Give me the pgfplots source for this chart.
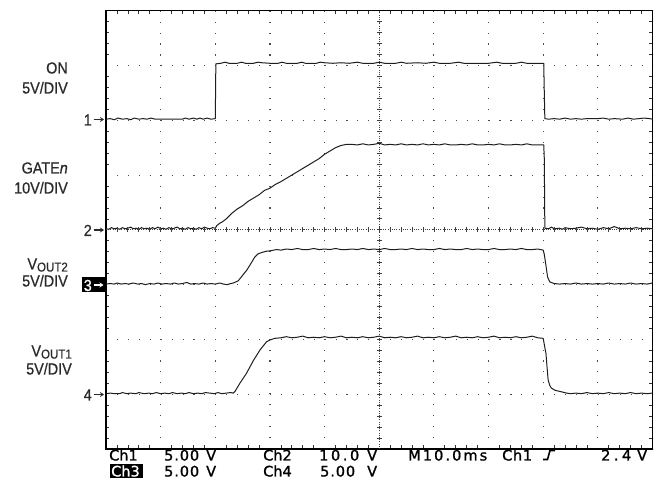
\documentclass[border=0pt]{standalone}
\usepackage{pgfplots}
\pgfplotsset{compat=1.18}
\usepackage{fontspec}
\usetikzlibrary{arrows.meta}
\setmainfont{Liberation Sans}
\newfontfamily\labfamily[FakeStretch=0.9, FakeBold=0.6]{Liberation Sans}
\newfontfamily\botfamily[FakeBold=1.2]{DejaVu Sans}
\newcommand\labfont{\labfamily\fontsize{16bp}{18bp}\selectfont}
\newcommand\subfont{\labfamily\fontsize{12.8bp}{14bp}\selectfont}
\newcommand\botfont{\botfamily\fontsize{14.5bp}{16bp}\selectfont}
\definecolor{trace}{HTML}{1E1E1E}
\definecolor{txt}{HTML}{2A2A2A}
\begin{document}
\begin{tikzpicture}
\useasboundingbox (0,0) rectangle (660bp,483bp);
\begin{axis}[
  at={(106bp,34bp)}, anchor=south west,
  scale only axis, width=546.5bp, height=438.3bp,
  xmin=0, xmax=10, ymin=0, ymax=8,
  xtick={0,...,10}, ytick={0,...,8},
  minor x tick num=4, minor y tick num=4,
  xticklabels={}, yticklabels={},
  major tick length=0pt, minor tick length=3.5bp,
  tick align=inside,
  minor tick style={black!80, line width=0.7bp},
  grid=major,
  major grid style={black!70, line width=1.1bp, dash pattern=on 1.1bp off 9.83bp},
  axis line style={black, line width=1.2bp},
  clip=false,
]
% Ch1 : ON
\addplot[trace, line width=1bp, line join=round] coordinates {
(0,6.02)(0.08,6.03)(0.15,6.01)(0.22,6.04)(0.3,6.02)(0.38,6.03)(0.45,6.01)(0.52,6.04)(0.6,6.02)(0.68,6.03)
(0.75,6.02)(0.82,6.04)(0.9,6.02)(1.0,6.02)(1.1,6.02)(1.2,6.02)(1.3,6.02)(1.4,6.02)(1.45,6.04)(1.52,6.02)
(1.6,6.04)(1.66,6.02)(1.72,6.04)(1.78,6.02)(1.85,6.04)(1.92,6.02)(2.0,6.03)
(2.01,7.03)(2.1,7.04)(2.18,7.06)(2.25,7.04)(2.4,7.04)(2.48,7.06)(2.55,7.04)(2.7,7.04)(2.78,7.06)(2.85,7.05)
(3.0,7.04)(3.15,7.04)(3.22,7.06)(3.3,7.04)(3.5,7.04)(3.58,7.06)(3.65,7.04)(3.85,7.04)(3.92,7.06)(4.0,7.05)
(4.15,7.04)(4.3,7.05)(4.45,7.04)(4.6,7.06)(4.7,7.04)(4.9,7.04)(5.0,7.06)(5.1,7.04)(5.3,7.04)(5.4,7.06)
(5.5,7.04)(5.7,7.05)(5.85,7.04)(6.0,7.06)(6.1,7.04)(6.3,7.04)(6.45,7.06)(6.55,7.04)(6.8,7.04)(7.0,7.04)
(7.15,7.06)(7.25,7.04)(7.5,7.04)(7.6,7.06)(7.7,7.04)(7.9,7.04)(8.01,7.04)
(8.02,6.5)(8.03,6.03)(8.1,6.02)(8.2,6.03)(8.3,6.02)(8.4,6.04)(8.5,6.02)(8.6,6.03)(8.7,6.02)(8.8,6.03)
(9.0,6.03)(9.1,6.04)(9.2,6.02)(9.3,6.03)(9.45,6.02)(9.55,6.04)(9.65,6.02)(9.75,6.03)(9.85,6.04)(9.95,6.03)(10,6.02)
};
% Ch2 : GATEn
\addplot[trace, line width=1bp, line join=round] coordinates {
(0,4.02)(0.05,4.01)(0.1,4.04)(0.15,4.02)(0.2,4.03)(0.25,4.01)(0.3,4.04)(0.35,4.02)(0.4,4.03)(0.45,4.05)
(0.5,4.02)(0.55,4.03)(0.6,4.01)(0.65,4.04)(0.7,4.02)(0.75,4.03)(0.8,4.01)(0.85,4.04)(0.9,4.02)(0.95,4.05)
(1.0,4.02)(1.05,4.03)(1.1,4.01)(1.15,4.04)(1.2,4.02)(1.25,4.03)(1.3,4.05)(1.35,4.02)(1.4,4.03)(1.45,4.01)
(1.5,4.04)(1.55,4.02)(1.6,4.03)(1.65,4.01)(1.7,4.04)(1.75,4.02)(1.8,4.05)(1.85,4.03)(1.9,4.02)(1.95,4.04)(2.0,4.03)
(2.03,4.08)(2.08,4.12)(2.12,4.14)(2.2,4.2)(2.3,4.3)(2.4,4.38)(2.5,4.44)(2.6,4.52)(2.7,4.58)(2.8,4.64)
(2.9,4.72)(3.0,4.76)(3.1,4.83)(3.2,4.88)(3.3,4.94)(3.4,5.0)(3.5,5.06)(3.6,5.12)(3.7,5.18)(3.8,5.24)
(3.9,5.3)(4.0,5.38)(4.1,5.44)(4.2,5.5)(4.3,5.54)(4.4,5.56)
(4.5,5.56)(4.6,5.55)(4.7,5.57)(4.8,5.55)(4.9,5.56)(5.0,5.58)(5.1,5.55)(5.2,5.56)(5.3,5.55)(5.4,5.57)
(5.5,5.55)(5.6,5.56)(5.7,5.55)(5.8,5.57)(5.9,5.55)(6.0,5.56)(6.1,5.55)(6.2,5.57)(6.3,5.55)(6.4,5.55)
(6.5,5.56)(6.6,5.55)(6.7,5.57)(6.8,5.55)(6.9,5.55)(7.0,5.56)(7.1,5.55)(7.2,5.57)(7.3,5.55)(7.4,5.55)
(7.5,5.56)(7.6,5.55)(7.7,5.57)(7.8,5.55)(7.9,5.55)(8.01,5.55)
(8.02,5.3)(8.03,4.03)(8.1,4.02)(8.15,4.05)(8.2,4.02)(8.3,4.03)(8.35,4.01)(8.4,4.04)(8.5,4.02)(8.6,4.03)
(8.7,4.05)(8.8,4.02)(8.9,4.03)(9.0,4.01)(9.1,4.04)(9.2,4.02)(9.3,4.06)(9.4,4.02)(9.5,4.03)(9.6,4.02)
(9.7,4.04)(9.8,4.02)(9.9,4.03)(10,4.02)
};
% Ch3 : VOUT2
\addplot[trace, line width=1bp, line join=round] coordinates {
(0,3.01)(0.08,3.02)(0.15,3.01)(0.2,3.03)(0.28,3.01)(0.35,3.02)(0.42,3.01)(0.5,3.03)(0.58,3.01)(0.65,3.02)
(0.72,3.00)(0.8,3.02)(0.88,3.01)(0.95,3.03)(1.02,3.01)(1.1,3.02)(1.18,3.01)(1.25,3.03)(1.32,3.01)(1.4,3.02)
(1.48,3.04)(1.55,3.01)(1.62,3.02)(1.7,3.01)(1.78,3.03)(1.85,3.01)(1.92,3.02)(2.0,3.01)(2.08,3.03)(2.15,3.01)
(2.22,3.00)(2.28,3.02)(2.33,3.03)
(2.42,3.07)(2.5,3.17)(2.58,3.27)(2.66,3.4)(2.72,3.5)(2.78,3.56)(2.86,3.59)(2.94,3.61)(3.02,3.62)(3.12,3.64)
(3.2,3.63)(3.3,3.65)(3.4,3.64)(3.5,3.66)(3.6,3.64)(3.7,3.64)(3.8,3.66)(3.9,3.64)(4.0,3.65)(4.1,3.64)
(4.2,3.66)(4.3,3.64)(4.4,3.64)(4.5,3.65)(4.6,3.64)(4.7,3.66)(4.8,3.64)(4.9,3.65)(5.0,3.64)(5.1,3.66)
(5.2,3.64)(5.3,3.64)(5.4,3.65)(5.5,3.64)(5.6,3.66)(5.7,3.64)(5.8,3.65)(5.9,3.64)(6.0,3.64)(6.1,3.66)
(6.2,3.64)(6.3,3.65)(6.4,3.64)(6.5,3.64)(6.6,3.66)(6.7,3.64)(6.8,3.65)(6.9,3.64)(7.0,3.64)(7.1,3.66)
(7.2,3.64)(7.3,3.64)(7.4,3.65)(7.5,3.64)(7.6,3.66)(7.7,3.64)(7.8,3.64)(7.9,3.65)(8.0,3.63)
(8.02,3.55)(8.05,3.35)(8.08,3.14)(8.12,3.05)(8.2,3.02)(8.3,3.01)(8.4,3.02)(8.5,3.01)(8.6,3.03)(8.7,3.01)
(8.8,3.02)(8.9,3.01)(9.0,3.02)(9.1,3.01)(9.2,3.03)(9.3,3.01)(9.4,3.02)(9.5,3.01)(9.6,3.03)(9.7,3.01)
(9.8,3.02)(9.9,3.01)(10,3.03)
};
% Ch4 : VOUT1
\addplot[trace, line width=1bp, line join=round] coordinates {
(0,1.01)(0.08,1.02)(0.15,1.01)(0.25,1.01)(0.3,1.03)(0.38,1.01)(0.45,1.02)(0.55,1.01)(0.6,1.03)(0.7,1.01)
(0.78,1.02)(0.85,1.01)(0.92,1.03)(1.0,1.01)(1.08,1.02)(1.15,1.01)(1.22,1.03)(1.3,1.01)(1.38,1.02)(1.45,1.01)
(1.52,1.03)(1.6,1.01)(1.68,1.02)(1.75,1.01)(1.82,1.03)(1.9,1.02)(1.98,1.01)(2.05,1.03)(2.12,1.01)(2.2,1.02)
(2.28,1.03)(2.33,1.02)
(2.36,1.05)(2.45,1.2)(2.57,1.38)(2.7,1.62)(2.82,1.81)(2.94,1.96)(3.0,1.99)(3.09,2.02)
(3.2,2.03)(3.3,2.05)(3.4,2.03)(3.5,2.04)(3.6,2.06)(3.7,2.03)(3.8,2.04)(3.9,2.03)(4.0,2.05)(4.1,2.03)
(4.2,2.04)(4.3,2.06)(4.4,2.03)(4.5,2.04)(4.6,2.03)(4.7,2.05)(4.8,2.03)(4.9,2.04)(5.0,2.06)(5.1,2.03)
(5.2,2.04)(5.3,2.03)(5.4,2.05)(5.5,2.03)(5.6,2.04)(5.7,2.06)(5.8,2.03)(5.9,2.04)(6.0,2.03)(6.1,2.05)
(6.2,2.03)(6.3,2.04)(6.4,2.06)(6.5,2.03)(6.6,2.04)(6.7,2.03)(6.8,2.05)(6.9,2.03)(7.0,2.04)(7.1,2.06)
(7.2,2.03)(7.3,2.04)(7.4,2.03)(7.5,2.05)(7.6,2.03)(7.7,2.04)(7.8,2.06)(7.9,2.03)(8.0,2.02)
(8.03,1.85)(8.05,1.75)(8.07,1.5)(8.09,1.26)(8.12,1.16)(8.15,1.11)(8.22,1.07)(8.31,1.05)(8.43,1.02)(8.5,1.01)
(8.6,1.02)(8.7,1.01)(8.8,1.03)(8.9,1.01)(9.0,1.02)(9.1,1.01)(9.2,1.03)(9.3,1.01)(9.4,1.02)(9.5,1.01)
(9.6,1.03)(9.7,1.01)(9.8,1.02)(9.9,1.01)(10,1.02)
};
\end{axis}
% centre graticule lines with minor ticks
\begin{scope}[x=1bp, y=1bp, black!75, line width=0.8bp]
\draw[dash pattern=on 1bp off 1.2bp] (106,253.15) -- (652.5,253.15);
\draw[dash pattern=on 1bp off 1.2bp] (379.25,34) -- (379.25,472.3);
\foreach \i in {1,...,49} {
  \draw ({106+\i*10.93},250.65) -- ({106+\i*10.93},255.65);
}
\foreach \j in {1,...,39} {
  \draw (376.75,{34+\j*10.958}) -- (381.75,{34+\j*10.958});
}
\end{scope}
% labels (image pixel coordinates)
\begin{scope}[x=1bp, y=-1bp, shift={(0bp,483bp)}]
\tikzset{lab/.style={font=\labfont, text=txt, inner sep=0pt}}
\node[lab, anchor=base east] at (68,73.5) {ON};
\node[lab, anchor=base east] at (68,93.5) {5V/DIV};
\node[lab, anchor=base east] at (68,173.5) {GATE\textit{n}};
\node[lab, anchor=base east] at (68,193.5) {10V/DIV};
\node[lab, anchor=base east] at (68,269.5) {V\raisebox{-2bp}{\subfont OUT2}};
\node[lab, anchor=base east] at (68,286.5) {5V/DIV};
\node[lab, anchor=base east] at (72,356.5) {V\raisebox{-2bp}{\subfont OUT1}};
\node[lab, anchor=base east] at (72,374.5) {5V/DIV};
% channel markers
\node[lab, anchor=base east] at (92,125.5) {1};
\draw[txt, line width=1.1bp, -{Stealth[length=4bp,width=5bp]}] (93.5,119.5) -- (104,119.5);
\node[lab, anchor=base east] at (92,236) {2};
\draw[txt, line width=1.1bp, -{Stealth[length=4bp,width=5bp]}] (93.5,230) -- (104,230);
\fill[black] (82,277.5) rectangle (105,292.5);
\node[lab, text=white, anchor=base east] at (92,291) {3};
\draw[white, line width=1.1bp, -{Stealth[length=4bp,width=5bp]}] (93.5,285) -- (103.5,285);
\node[lab, anchor=base east] at (92,400.5) {4};
\draw[txt, line width=1.1bp, -{Stealth[length=4bp,width=5bp]}] (93.5,394.5) -- (104,394.5);
% bottom status text
\tikzset{bt/.style={font=\botfont, text=black, inner sep=0pt, anchor=base west}}
\node[bt] at (109,460.5) {Ch1};
\node[bt] at (164,460.5) {5\kern0.9bp.\kern0.9bp0\kern0.9bp0};
\node[bt] at (206,460.5) {V};
\node[bt] at (263,460.5) {Ch2};
\node[bt] at (319,460.5) {1\kern2.6bp0\kern2.6bp.\kern2.6bp0};
\node[bt] at (367,460.5) {V};
\node[bt] at (408,460.5) {M\kern2.1bp1\kern2.1bp0\kern2.1bp.\kern2.1bp0\kern2.1bp m\kern2.1bp s};
\node[bt] at (502,460.5) {C\kern0.7bp h\kern0.7bp1};
\draw[black, line width=1.6bp] (543,459.5) -- (547.5,459.5) -- (550,450.5) -- (555,450.5);
\node[bt] at (601,460.5) {2\kern3.5bp.\kern3.5bp4};
\node[bt] at (637,460.5) {V};
\fill[black] (110,464) rectangle (143,478);
\node[bt, text=white] at (111,476.5) {Ch3};
\node[bt] at (164,476.5) {5\kern0.9bp.\kern0.9bp0\kern0.9bp0};
\node[bt] at (206,476.5) {V};
\node[bt] at (263,476.5) {Ch4};
\node[bt] at (320,476.5) {5\kern0.9bp.\kern0.9bp0\kern0.9bp0};
\node[bt] at (367,476.5) {V};
\end{scope}
\end{tikzpicture}
\end{document}
